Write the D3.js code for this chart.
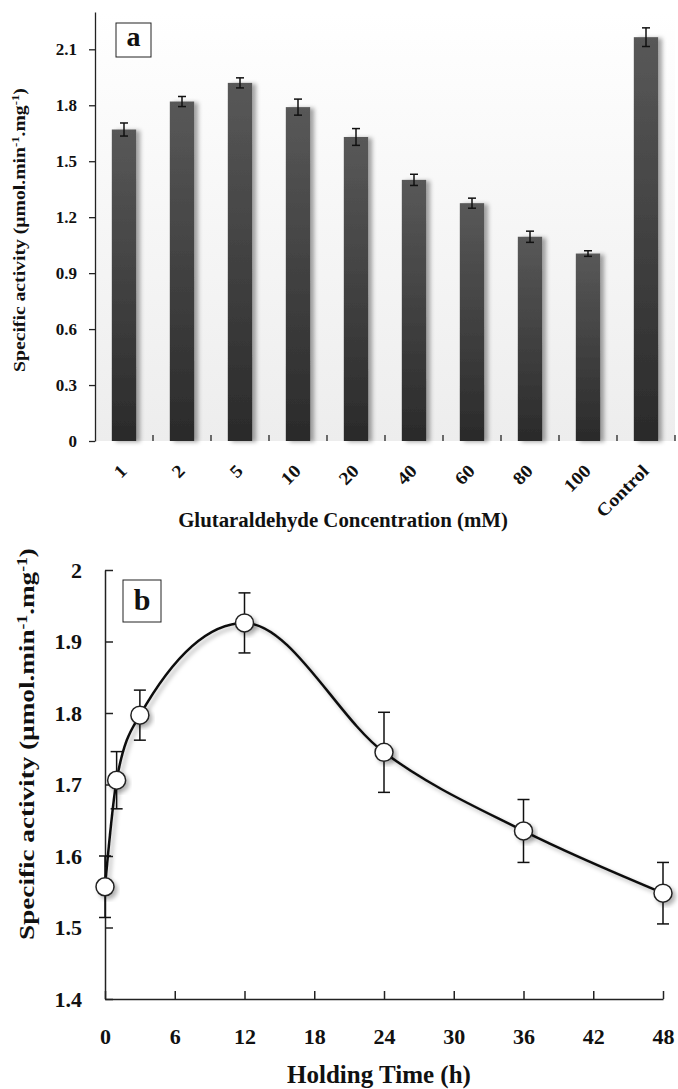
<!DOCTYPE html>
<html>
<head>
<meta charset="utf-8">
<script src="https://cdn.jsdelivr.net/npm/d3@7"></script>
<style>
  body { margin: 0; background: #fff; }
  text { font-family: "Liberation Serif", "Times New Roman", serif; font-weight: bold; fill: #111; }
</style>
</head>
<body>
<svg id="vis" width="678" height="1089"></svg>
<script>
// panel a data
const concLabels = ["1", "2", "5", "10", "20", "40", "60", "80", "100", "Control"];
const activityA = [1.67, 1.82, 1.92, 1.79, 1.63, 1.40, 1.275, 1.095, 1.005, 2.165];
const errA = [0.035, 0.027, 0.027, 0.043, 0.045, 0.03, 0.027, 0.03, 0.015, 0.05];
const yTicksA = [0, 0.3, 0.6, 0.9, 1.2, 1.5, 1.8, 2.1];

// panel b data
const holdHours = [0, 1, 3, 12, 24, 36, 48];
const activityB = [1.557, 1.706, 1.797, 1.926, 1.745, 1.635, 1.548];
const errB = [0.043, 0.04, 0.035, 0.042, 0.056, 0.044, 0.043];
const xTicksB = [0, 6, 12, 18, 24, 30, 36, 42, 48];
const yTicksB = [1.4, 1.5, 1.6, 1.7, 1.8, 1.9, 2.0];

const svg = d3.select("#vis");
const defs = svg.append("defs");

const bgGrad = defs.append("linearGradient").attr("id", "bgGrad")
  .attr("x1", 0).attr("y1", 0).attr("x2", 0).attr("y2", 1);
bgGrad.append("stop").attr("offset", "0%").attr("stop-color", "#ffffff");
bgGrad.append("stop").attr("offset", "100%").attr("stop-color", "#ededed");

const barGrad = defs.append("linearGradient").attr("id", "barGrad")
  .attr("x1", 0).attr("y1", 0).attr("x2", 0).attr("y2", 1);
barGrad.append("stop").attr("offset", "0%").attr("stop-color", "#585858");
barGrad.append("stop").attr("offset", "100%").attr("stop-color", "#2a2a2a");

defs.append("filter").attr("id", "barShadow")
  .attr("x", "-20%").attr("y", "-5%").attr("width", "160%").attr("height", "110%")
  .append("feDropShadow").attr("dx", 4).attr("dy", 1).attr("stdDeviation", 2)
  .attr("flood-color", "#000").attr("flood-opacity", 0.35);

defs.append("filter").attr("id", "softShadow")
  .attr("x", "-20%").attr("y", "-20%").attr("width", "150%").attr("height", "150%")
  .append("feDropShadow").attr("dx", 3).attr("dy", 3).attr("stdDeviation", 2)
  .attr("flood-color", "#000").attr("flood-opacity", 0.3);

// stretch a text along its run so it covers the length seen in the figure
function stretchTo(sel, base, target) {
  const len = sel.node().getComputedTextLength();
  sel.attr("transform", `${base} scale(${target / len},1)`);
}

function yTitle(g, x, y, size, len) {
  const t = g.append("text")
    .attr("text-anchor", "middle")
    .attr("font-size", size);
  t.append("tspan").text("Specific activity (µmol.min");
  t.append("tspan").attr("baseline-shift", "super").attr("font-size", size * 0.65).text("-1");
  t.append("tspan").text(".mg");
  t.append("tspan").attr("baseline-shift", "super").attr("font-size", size * 0.65).text("-1");
  t.append("tspan").text(")");
  stretchTo(t, `translate(${x},${y}) rotate(-90)`, len);
}

// ---------- panel a ----------
const xA = d3.scaleBand().domain(concLabels).range([95, 675])
  .paddingInner(0.58).paddingOuter(0.29);
const yA = d3.scaleLinear().domain([0, 2.3]).range([441, 12]);

const gA = svg.append("g");

gA.append("rect")
  .attr("x", xA.range()[0]).attr("y", yA(2.3))
  .attr("width", xA.range()[1] - xA.range()[0])
  .attr("height", yA(0) - yA(2.3))
  .attr("fill", "url(#bgGrad)");

gA.selectAll("rect.bar")
  .data(concLabels)
  .join("rect")
  .attr("class", "bar")
  .attr("x", d => xA(d))
  .attr("y", (d, i) => yA(activityA[i]))
  .attr("width", xA.bandwidth())
  .attr("height", (d, i) => yA(0) - yA(activityA[i]))
  .attr("fill", "url(#barGrad)")
  .attr("filter", "url(#barShadow)");

const errGA = gA.selectAll("g.err")
  .data(concLabels)
  .join("g")
  .attr("class", "err")
  .attr("stroke", "#111")
  .attr("stroke-width", 1.5);
errGA.append("line")
  .attr("x1", d => xA(d) + xA.bandwidth() / 2).attr("x2", d => xA(d) + xA.bandwidth() / 2)
  .attr("y1", (d, i) => yA(activityA[i] + errA[i])).attr("y2", (d, i) => yA(activityA[i] - errA[i]));
errGA.append("line")
  .attr("x1", d => xA(d) + xA.bandwidth() / 2 - 4).attr("x2", d => xA(d) + xA.bandwidth() / 2 + 4)
  .attr("y1", (d, i) => yA(activityA[i] + errA[i])).attr("y2", (d, i) => yA(activityA[i] + errA[i]));
errGA.append("line")
  .attr("x1", d => xA(d) + xA.bandwidth() / 2 - 4).attr("x2", d => xA(d) + xA.bandwidth() / 2 + 4)
  .attr("y1", (d, i) => yA(activityA[i] - errA[i])).attr("y2", (d, i) => yA(activityA[i] - errA[i]));

// y axis a
const yAxisA = gA.append("g")
  .attr("transform", `translate(${xA.range()[0]},0)`)
  .call(d3.axisLeft(yA).tickValues(yTicksA).tickSize(6).tickSizeOuter(0).tickFormat(d3.format("")));
yAxisA.select(".domain").attr("stroke", "#222").attr("stroke-width", 1.3);
yAxisA.selectAll(".tick line").attr("stroke", "#222").attr("stroke-width", 1.3);
yAxisA.selectAll(".tick text").attr("font-size", 17).attr("x", -18).attr("fill", "#111");

// x axis a
const xAxisA = gA.append("g").attr("transform", `translate(0,${yA(0)})`);
xAxisA.append("line")
  .attr("x1", xA.range()[0]).attr("x2", xA.range()[1])
  .attr("stroke", "#222").attr("stroke-width", 1.3)
  .attr("filter", "url(#softShadow)");
xAxisA.selectAll("line.tk")
  .data(concLabels)
  .join("line")
  .attr("class", "tk")
  .attr("x1", d => xA(d) + xA.bandwidth() + (xA.step() - xA.bandwidth()) / 2)
  .attr("x2", d => xA(d) + xA.bandwidth() + (xA.step() - xA.bandwidth()) / 2)
  .attr("y1", 0).attr("y2", -6)
  .attr("stroke", "#222").attr("stroke-width", 1.3);
xAxisA.selectAll("text.lbl")
  .data(concLabels)
  .join("text")
  .attr("class", "lbl")
  .attr("transform", d => `translate(${xA(d) + xA.bandwidth() / 2 + 4},${31}) rotate(-45) scale(1.1,1)`)
  .attr("text-anchor", "end")
  .attr("font-size", 18)
  .text(d => d);

const xTitleA = gA.append("text")
  .attr("text-anchor", "middle")
  .attr("font-size", 20)
  .text("Glutaraldehyde Concentration (mM)");
stretchTo(xTitleA, "translate(343,527)", 330);

yTitle(gA, 25, 230, 17, 284);

gA.append("rect").attr("x", 116).attr("y", 23).attr("width", 35).attr("height", 34)
  .attr("fill", "#fff").attr("stroke", "#222").attr("stroke-width", 1);
gA.append("text").attr("x", 133.5).attr("y", 46).attr("text-anchor", "middle")
  .attr("font-size", 28).text("a");

// ---------- panel b ----------
const xB = d3.scaleLinear().domain([0, 48]).range([105, 663]);
const yB = d3.scaleLinear().domain([1.4, 2.0]).range([999, 570]);

const gB = svg.append("g");

const xAxisB = gB.append("g")
  .attr("transform", `translate(0,${yB(1.4)})`)
  .call(d3.axisTop(xB).tickValues(xTicksB).tickSize(8).tickSizeOuter(0));
xAxisB.select(".domain").attr("stroke", "#222").attr("stroke-width", 1.5);
xAxisB.selectAll(".tick line").attr("stroke", "#222").attr("stroke-width", 1.5);
xAxisB.selectAll(".tick text")
  .attr("y", 45).attr("dy", 0)
  .attr("font-size", 22).attr("fill", "#111");

const yAxisB = gB.append("g")
  .attr("transform", `translate(${xB(0)},0)`)
  .call(d3.axisRight(yB).tickValues(yTicksB).tickSize(8).tickSizeOuter(0).tickFormat(d3.format("")));
yAxisB.select(".domain").attr("stroke", "#222").attr("stroke-width", 1.5);
yAxisB.selectAll(".tick line").attr("stroke", "#222").attr("stroke-width", 1.5);
yAxisB.selectAll(".tick text")
  .attr("x", -23).attr("text-anchor", "end")
  .attr("font-size", 22).attr("fill", "#111");

const ptsB = holdHours.map((h, i) => [h, activityB[i], errB[i]]);

const errGB = gB.selectAll("g.errb")
  .data(ptsB)
  .join("g")
  .attr("class", "errb")
  .attr("stroke", "#111")
  .attr("stroke-width", 1.5);
errGB.append("line")
  .attr("x1", d => xB(d[0])).attr("x2", d => xB(d[0]))
  .attr("y1", d => yB(d[1] + d[2])).attr("y2", d => yB(d[1] - d[2]));
errGB.append("line")
  .attr("x1", d => xB(d[0]) - 6).attr("x2", d => xB(d[0]) + 6)
  .attr("y1", d => yB(d[1] + d[2])).attr("y2", d => yB(d[1] + d[2]));
errGB.append("line")
  .attr("x1", d => xB(d[0]) - 6).attr("x2", d => xB(d[0]) + 6)
  .attr("y1", d => yB(d[1] - d[2])).attr("y2", d => yB(d[1] - d[2]));

const curveLine = d3.line()
  .x(d => xB(d[0]))
  .y(d => yB(d[1]))
  .curve(d3.curveMonotoneX);

gB.append("path")
  .attr("d", curveLine(ptsB))
  .attr("fill", "none")
  .attr("stroke", "#111")
  .attr("stroke-width", 2.5)
  .attr("filter", "url(#softShadow)");

gB.selectAll("circle.pt")
  .data(ptsB)
  .join("circle")
  .attr("class", "pt")
  .attr("cx", d => xB(d[0]))
  .attr("cy", d => yB(d[1]))
  .attr("r", 9)
  .attr("fill", "#fff")
  .attr("stroke", "#222")
  .attr("stroke-width", 1.5)
  .attr("filter", "url(#softShadow)");

gB.append("text")
  .attr("x", 379).attr("y", 1083)
  .attr("text-anchor", "middle")
  .attr("font-size", 25)
  .text("Holding Time (h)");

yTitle(gB, 34, 744, 22, 392);

gB.append("rect").attr("x", 123).attr("y", 580).attr("width", 38).attr("height", 42)
  .attr("fill", "#fff").attr("stroke", "#222").attr("stroke-width", 1);
gB.append("text").attr("x", 142).attr("y", 610).attr("text-anchor", "middle")
  .attr("font-size", 30).text("b");
</script>
</body>
</html>
